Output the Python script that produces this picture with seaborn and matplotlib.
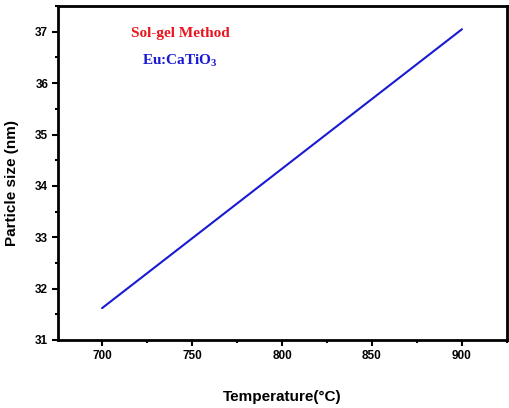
import matplotlib
matplotlib.use("Agg")
import matplotlib.pyplot as plt
import seaborn as sns
import pandas as pd
from matplotlib.ticker import MultipleLocator

# data
temperature = [700, 900]
particle_size = [31.62, 37.05]

sns.set_style("ticks")
plt.rcParams['font.family'] = ['Liberation Sans', 'DejaVu Sans']
plt.rcParams['text.color'] = 'black'
plt.rcParams['axes.labelcolor'] = 'black'
plt.rcParams['xtick.color'] = 'black'
plt.rcParams['ytick.color'] = 'black'
plt.rcParams['axes.edgecolor'] = 'black'
plt.rcParams['mathtext.fontset'] = 'custom'
plt.rcParams['mathtext.rm'] = 'Liberation Serif:bold'
plt.rcParams['mathtext.bf'] = 'Liberation Serif:bold'

df = pd.DataFrame({'temperature': temperature, 'size': particle_size})

fig = plt.figure(figsize=(5.1, 4.08), dpi=100)
ax = fig.add_axes([0.1137, 0.1667, 0.8803, 0.8183])
sns.lineplot(data=df, x='temperature', y='size', ax=ax, color='#1a1ad2', linewidth=1.5)

ax.set_xlim(675.5, 925)
ax.set_ylim(31, 37.5)
ax.xaxis.set_major_locator(MultipleLocator(50))
ax.xaxis.set_minor_locator(MultipleLocator(25))
ax.yaxis.set_major_locator(MultipleLocator(1))
ax.yaxis.set_minor_locator(MultipleLocator(0.5))
ax.tick_params(which='both', direction='out', width=1.5, labelsize=8.5, pad=3)
ax.tick_params(which='major', length=4)
ax.tick_params(which='minor', length=2.5)
for lab in ax.get_xticklabels() + ax.get_yticklabels():
    lab.set_fontweight('bold')
for sp in ax.spines.values():
    sp.set_linewidth(2)
    sp.set_visible(True)

ax.set_xlabel('Temperature(°C)', fontsize=11, fontweight='bold')
ax.set_ylabel('Particle size (nm)', fontsize=11, fontweight='bold')
ax.xaxis.set_label_coords(0.5, -0.15)
ax.yaxis.set_label_coords(-0.087, 0.47)

ax.text(0.272, 0.918, 'Sol-gel Method', transform=ax.transAxes, ha='center', va='center',
        color='#e8141e', fontsize=11, fontweight='bold', family='Liberation Serif')
ax.text(0.272, 0.836, 'Eu:CaTiO$_3$', transform=ax.transAxes, ha='center', va='center',
        color='#1a1ad2', fontsize=11, fontweight='bold', family='Liberation Serif')

fig.savefig('out.png', dpi=100)
